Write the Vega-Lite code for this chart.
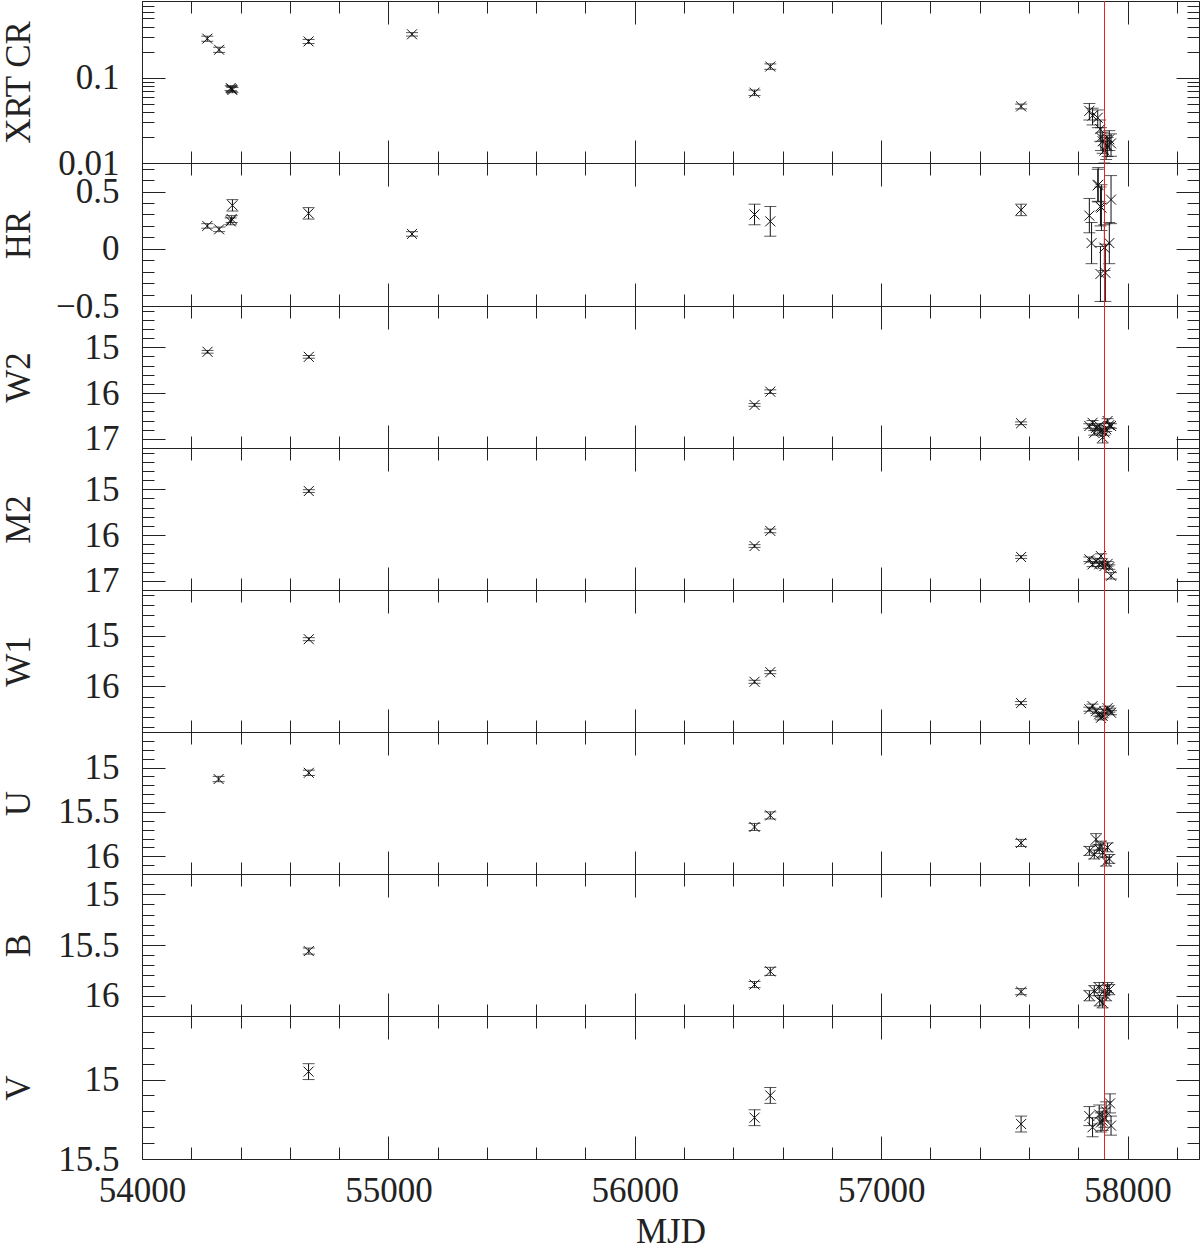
{
  "$schema": "https://vega.github.io/schema/vega-lite/v6.json",
  "background": "white",
  "padding": {"left": 0, "top": 0, "right": 0, "bottom": 0},
  "spacing": 0,
  "bounds": "flush",
  "config": {
    "view": {"stroke": "#222", "strokeWidth": 1},
    "axis": {"domain": false, "grid": false, "tickColor": "#222", "tickWidth": 1, "labelFont": "Liberation Serif", "labelFontSize": 35, "labelColor": "#222", "titleFont": "Liberation Serif", "titleFontSize": 35, "titleFontWeight": "normal", "titleColor": "#222", "labelOverlap": false, "labelFlush": false, "labelBound": false}
  },
  "datasets": {
    "xrt": [
      {"mjd": 54265, "val": 0.289, "err": 0.02},
      {"mjd": 54313, "val": 0.214, "err": 0.015},
      {"mjd": 54360, "val": 0.076, "err": 0.005},
      {"mjd": 54364, "val": 0.074, "err": 0.005},
      {"mjd": 54367, "val": 0.072, "err": 0.005},
      {"mjd": 54676, "val": 0.268, "err": 0.015},
      {"mjd": 55096, "val": 0.325, "err": 0.015},
      {"mjd": 56486, "val": 0.067, "err": 0.005},
      {"mjd": 56550, "val": 0.136, "err": 0.01},
      {"mjd": 57568, "val": 0.0462, "err": 0.003},
      {"mjd": 57845, "val": 0.041, "err": 0.009},
      {"mjd": 57858, "val": 0.036, "err": 0.008},
      {"mjd": 57879, "val": 0.034, "err": 0.008},
      {"mjd": 57889, "val": 0.025, "err": 0.007},
      {"mjd": 57892, "val": 0.020, "err": 0.006},
      {"mjd": 57899, "val": 0.018, "err": 0.005},
      {"mjd": 57906, "val": 0.014, "err": 0.004},
      {"mjd": 57913, "val": 0.016, "err": 0.005},
      {"mjd": 57926, "val": 0.019, "err": 0.005},
      {"mjd": 57919, "val": 0.0159, "err": 0.004},
      {"mjd": 57933, "val": 0.017, "err": 0.005}
    ],
    "hr": [
      {"mjd": 54265, "val": 0.20, "err": 0.02},
      {"mjd": 54313, "val": 0.17, "err": 0.02},
      {"mjd": 54360, "val": 0.24, "err": 0.03},
      {"mjd": 54364, "val": 0.26, "err": 0.03},
      {"mjd": 54367, "val": 0.38, "err": 0.05},
      {"mjd": 54676, "val": 0.31, "err": 0.05},
      {"mjd": 55096, "val": 0.13, "err": 0.02},
      {"mjd": 56486, "val": 0.30, "err": 0.09},
      {"mjd": 56550, "val": 0.24, "err": 0.13},
      {"mjd": 57568, "val": 0.34, "err": 0.05},
      {"mjd": 57845, "val": 0.29, "err": 0.15},
      {"mjd": 57854, "val": 0.05, "err": 0.18},
      {"mjd": 57879, "val": 0.555, "err": 0.14},
      {"mjd": 57881, "val": 0.56, "err": 0.15},
      {"mjd": 57890, "val": 0.37, "err": 0.17},
      {"mjd": 57890, "val": -0.22, "err": 0.24},
      {"mjd": 57894, "val": 0.36, "err": 0.2},
      {"mjd": 57906, "val": 0.01, "err": 0.2},
      {"mjd": 57910, "val": -0.21, "err": 0.25},
      {"mjd": 57926, "val": 0.05, "err": 0.18},
      {"mjd": 57933, "val": 0.43, "err": 0.21}
    ],
    "w2": [
      {"mjd": 54266, "val": 15.10, "err": 0.03},
      {"mjd": 54677, "val": 15.21, "err": 0.03},
      {"mjd": 56486, "val": 16.26, "err": 0.03},
      {"mjd": 56550, "val": 15.97, "err": 0.04},
      {"mjd": 57568, "val": 16.66, "err": 0.03},
      {"mjd": 57845, "val": 16.72, "err": 0.05},
      {"mjd": 57858, "val": 16.65, "err": 0.05},
      {"mjd": 57865, "val": 16.87, "err": 0.05},
      {"mjd": 57872, "val": 16.76, "err": 0.05},
      {"mjd": 57885, "val": 16.72, "err": 0.05},
      {"mjd": 57892, "val": 16.83, "err": 0.05},
      {"mjd": 57899, "val": 16.97, "err": 0.12},
      {"mjd": 57906, "val": 16.86, "err": 0.06},
      {"mjd": 57913, "val": 16.79, "err": 0.05},
      {"mjd": 57919, "val": 16.61, "err": 0.05},
      {"mjd": 57926, "val": 16.70, "err": 0.05},
      {"mjd": 57933, "val": 16.72, "err": 0.05}
    ],
    "m2": [
      {"mjd": 54677, "val": 15.04, "err": 0.03},
      {"mjd": 56486, "val": 16.24, "err": 0.03},
      {"mjd": 56550, "val": 15.91, "err": 0.04},
      {"mjd": 57568, "val": 16.48, "err": 0.03},
      {"mjd": 57845, "val": 16.53, "err": 0.05},
      {"mjd": 57858, "val": 16.64, "err": 0.05},
      {"mjd": 57872, "val": 16.57, "err": 0.05},
      {"mjd": 57885, "val": 16.64, "err": 0.05},
      {"mjd": 57892, "val": 16.46, "err": 0.05},
      {"mjd": 57899, "val": 16.62, "err": 0.05},
      {"mjd": 57906, "val": 16.68, "err": 0.05},
      {"mjd": 57919, "val": 16.63, "err": 0.05},
      {"mjd": 57926, "val": 16.70, "err": 0.05},
      {"mjd": 57933, "val": 16.89, "err": 0.07}
    ],
    "w1": [
      {"mjd": 54677, "val": 15.07, "err": 0.03},
      {"mjd": 56486, "val": 15.91, "err": 0.03},
      {"mjd": 56550, "val": 15.72, "err": 0.03},
      {"mjd": 57568, "val": 16.33, "err": 0.03},
      {"mjd": 57845, "val": 16.45, "err": 0.04},
      {"mjd": 57858, "val": 16.39, "err": 0.04},
      {"mjd": 57872, "val": 16.49, "err": 0.04},
      {"mjd": 57885, "val": 16.55, "err": 0.04},
      {"mjd": 57892, "val": 16.62, "err": 0.04},
      {"mjd": 57899, "val": 16.58, "err": 0.04},
      {"mjd": 57906, "val": 16.49, "err": 0.04},
      {"mjd": 57919, "val": 16.43, "err": 0.04},
      {"mjd": 57926, "val": 16.47, "err": 0.04},
      {"mjd": 57933, "val": 16.52, "err": 0.04}
    ],
    "u": [
      {"mjd": 54311, "val": 15.13, "err": 0.03},
      {"mjd": 54677, "val": 15.06, "err": 0.03},
      {"mjd": 56486, "val": 15.67, "err": 0.04},
      {"mjd": 56550, "val": 15.54, "err": 0.04},
      {"mjd": 57568, "val": 15.85, "err": 0.04},
      {"mjd": 57845, "val": 15.94, "err": 0.05},
      {"mjd": 57865, "val": 15.98, "err": 0.05},
      {"mjd": 57872, "val": 15.81, "err": 0.065},
      {"mjd": 57885, "val": 15.92, "err": 0.05},
      {"mjd": 57892, "val": 15.88, "err": 0.05},
      {"mjd": 57899, "val": 15.96, "err": 0.05},
      {"mjd": 57913, "val": 16.06, "err": 0.05},
      {"mjd": 57919, "val": 15.90, "err": 0.05},
      {"mjd": 57926, "val": 16.03, "err": 0.05}
    ],
    "b": [
      {"mjd": 54677, "val": 15.56, "err": 0.03},
      {"mjd": 56486, "val": 15.89, "err": 0.03},
      {"mjd": 56550, "val": 15.76, "err": 0.04},
      {"mjd": 57568, "val": 15.96, "err": 0.03},
      {"mjd": 57845, "val": 16.00, "err": 0.05},
      {"mjd": 57865, "val": 15.95, "err": 0.05},
      {"mjd": 57885, "val": 15.92, "err": 0.05},
      {"mjd": 57887, "val": 16.05, "err": 0.05},
      {"mjd": 57899, "val": 16.07, "err": 0.05},
      {"mjd": 57906, "val": 15.95, "err": 0.05},
      {"mjd": 57913, "val": 16.00, "err": 0.05},
      {"mjd": 57919, "val": 15.92, "err": 0.05},
      {"mjd": 57926, "val": 15.94, "err": 0.05}
    ],
    "v": [
      {"mjd": 54676, "val": 14.95, "err": 0.05},
      {"mjd": 56486, "val": 15.24, "err": 0.05},
      {"mjd": 56550, "val": 15.10, "err": 0.05},
      {"mjd": 57568, "val": 15.28, "err": 0.05},
      {"mjd": 57845, "val": 15.23, "err": 0.06},
      {"mjd": 57858, "val": 15.30, "err": 0.06},
      {"mjd": 57885, "val": 15.22, "err": 0.06},
      {"mjd": 57892, "val": 15.27, "err": 0.06},
      {"mjd": 57899, "val": 15.26, "err": 0.06},
      {"mjd": 57906, "val": 15.24, "err": 0.06},
      {"mjd": 57913, "val": 15.20, "err": 0.06},
      {"mjd": 57929, "val": 15.15, "err": 0.06},
      {"mjd": 57933, "val": 15.29, "err": 0.06}
    ]
  },
  "vconcat": [
    {
      "width": 1057, "height": 162,
      "data": {"name": "xrt"},
      "resolve": {"axis": {"x": "independent", "y": "independent"}},
      "layer": [
        {"mark": {"type": "errorbar", "color": "#111", "ticks": {"size": 12}, "clip": true},
         "encoding": {"x": {"field": "mjd", "type": "quantitative", "scale": {"domain": [54000, 58290], "nice": false, "zero": false}, "axis": null},
                      "y": {"field": "val", "type": "quantitative", "scale": {"type": "log", "domain": [0.01, 0.8], "nice": false}, "axis": null},
                      "yError": {"field": "err"}}},
        {"mark": {"type": "point", "shape": "M-1,-1L1,1M-1,1L1,-1", "size": 100, "filled": false, "stroke": "#111", "strokeWidth": 1, "opacity": 1, "clip": true},
         "encoding": {"x": {"field": "mjd", "type": "quantitative", "scale": {"domain": [54000, 58290], "nice": false, "zero": false},
                            "axis": {"orient": "bottom", "values": [54000,54200,54400,54600,54800,55000,55200,55400,55600,55800,56000,56200,56400,56600,56800,57000,57200,57400,57600,57800,58000,58200], "tickSize": {"condition": {"test": "datum.value % 1000 === 0", "value": -23}, "value": -12}, "labels": false, "title": null, "minExtent": 0, "maxExtent": 0}},
                      "y": {"field": "val", "type": "quantitative", "scale": {"type": "log", "domain": [0.01, 0.8], "nice": false},
                            "axis": {"orient": "left", "values": [0.01,0.02,0.03,0.04,0.05,0.06,0.07,0.08,0.09,0.1,0.2,0.3,0.4,0.5,0.6,0.7,0.8], "format": "~g", "tickSize": {"condition": {"test": "datum.value == 0.1 || datum.value == 0.01", "value": -23}, "value": -12}, "labelExpr": "(datum.value == 0.1 || datum.value == 0.01) ? datum.label : ''", "labelFontSize": {"condition": {"test": "datum.value == 0.1 || datum.value == 0.01", "value": 35}, "value": 0}, "labelPadding": 46, "title": "XRT CR", "titlePadding": 18, "minExtent": 88, "maxExtent": 88}}}},
        {"mark": {"type": "point", "opacity": 0},
         "encoding": {"x": {"field": "mjd", "type": "quantitative", "scale": {"domain": [54000, 58290], "nice": false, "zero": false},
                            "axis": {"orient": "top", "values": [54000,54200,54400,54600,54800,55000,55200,55400,55600,55800,56000,56200,56400,56600,56800,57000,57200,57400,57600,57800,58000,58200], "tickSize": {"condition": {"test": "datum.value % 1000 === 0", "value": -23}, "value": -12}, "labels": false, "title": null, "minExtent": 0, "maxExtent": 0}},
                      "y": {"field": "val", "type": "quantitative", "scale": {"type": "log", "domain": [0.01, 0.8], "nice": false},
                            "axis": {"orient": "right", "values": [0.01,0.02,0.03,0.04,0.05,0.06,0.07,0.08,0.09,0.1,0.2,0.3,0.4,0.5,0.6,0.7,0.8], "tickSize": {"condition": {"test": "datum.value == 0.1 || datum.value == 0.01", "value": -23}, "value": -12}, "labels": false, "title": null, "minExtent": 0, "maxExtent": 0}}}},
        {"mark": {"type": "rule", "color": "#e8212a", "strokeWidth": 1},
         "encoding": {"x": {"datum": 57906.5, "type": "quantitative", "axis": null}}}
      ]
    },
    {
      "width": 1057, "height": 143,
      "data": {"name": "hr"},
      "resolve": {"axis": {"x": "independent", "y": "independent"}},
      "layer": [
        {"mark": {"type": "errorbar", "color": "#111", "ticks": {"size": 12}, "clip": true},
         "encoding": {"x": {"field": "mjd", "type": "quantitative", "scale": {"domain": [54000, 58290], "nice": false, "zero": false}, "axis": null},
                      "y": {"field": "val", "type": "quantitative", "scale": {"domain": [-0.5, 0.75], "nice": false, "zero": false}, "axis": null},
                      "yError": {"field": "err"}}},
        {"mark": {"type": "point", "shape": "M-1,-1L1,1M-1,1L1,-1", "size": 100, "filled": false, "stroke": "#111", "strokeWidth": 1, "opacity": 1, "clip": true},
         "encoding": {"x": {"field": "mjd", "type": "quantitative", "scale": {"domain": [54000, 58290], "nice": false, "zero": false},
                            "axis": {"orient": "bottom", "values": [54000,54200,54400,54600,54800,55000,55200,55400,55600,55800,56000,56200,56400,56600,56800,57000,57200,57400,57600,57800,58000,58200], "tickSize": {"condition": {"test": "datum.value % 1000 === 0", "value": -23}, "value": -12}, "labels": false, "title": null, "minExtent": 0, "maxExtent": 0}},
                      "y": {"field": "val", "type": "quantitative", "scale": {"domain": [-0.5, 0.75], "nice": false, "zero": false},
                            "axis": {"orient": "left", "values": [-0.5,-0.4,-0.3,-0.2,-0.1,0,0.1,0.2,0.3,0.4,0.5,0.6,0.7], "format": "~g", "tickSize": {"condition": {"test": "abs(datum.value*2 - round(datum.value*2)) < 1e-6", "value": -23}, "value": -12}, "labelExpr": "abs(datum.value*2 - round(datum.value*2)) < 1e-6 ? datum.label : ''", "labelPadding": 46, "title": "HR", "titlePadding": 18, "minExtent": 88, "maxExtent": 88}}}},
        {"mark": {"type": "point", "opacity": 0},
         "encoding": {"x": {"field": "mjd", "type": "quantitative", "scale": {"domain": [54000, 58290], "nice": false, "zero": false},
                            "axis": {"orient": "top", "values": [54000,54200,54400,54600,54800,55000,55200,55400,55600,55800,56000,56200,56400,56600,56800,57000,57200,57400,57600,57800,58000,58200], "tickSize": {"condition": {"test": "datum.value % 1000 === 0", "value": -23}, "value": -12}, "labels": false, "title": null, "minExtent": 0, "maxExtent": 0}},
                      "y": {"field": "val", "type": "quantitative", "scale": {"domain": [-0.5, 0.75], "nice": false, "zero": false},
                            "axis": {"orient": "right", "values": [-0.5,-0.4,-0.3,-0.2,-0.1,0,0.1,0.2,0.3,0.4,0.5,0.6,0.7], "tickSize": {"condition": {"test": "abs(datum.value*2 - round(datum.value*2)) < 1e-6", "value": -23}, "value": -12}, "labels": false, "title": null, "minExtent": 0, "maxExtent": 0}}}},
        {"mark": {"type": "rule", "color": "#e8212a", "strokeWidth": 1},
         "encoding": {"x": {"datum": 57906.5, "type": "quantitative", "axis": null}}}
      ]
    },
    {
      "width": 1057, "height": 142,
      "data": {"name": "w2"},
      "resolve": {"axis": {"x": "independent", "y": "independent"}},
      "layer": [
        {"mark": {"type": "errorbar", "color": "#111", "ticks": {"size": 12}, "clip": true},
         "encoding": {"x": {"field": "mjd", "type": "quantitative", "scale": {"domain": [54000, 58290], "nice": false, "zero": false}, "axis": null},
                      "y": {"field": "val", "type": "quantitative", "scale": {"domain": [14.1, 17.2], "reverse": true, "nice": false, "zero": false}, "axis": null},
                      "yError": {"field": "err"}}},
        {"mark": {"type": "point", "shape": "M-1,-1L1,1M-1,1L1,-1", "size": 100, "filled": false, "stroke": "#111", "strokeWidth": 1, "opacity": 1, "clip": true},
         "encoding": {"x": {"field": "mjd", "type": "quantitative", "scale": {"domain": [54000, 58290], "nice": false, "zero": false},
                            "axis": {"orient": "bottom", "values": [54000,54200,54400,54600,54800,55000,55200,55400,55600,55800,56000,56200,56400,56600,56800,57000,57200,57400,57600,57800,58000,58200], "tickSize": {"condition": {"test": "datum.value % 1000 === 0", "value": -23}, "value": -12}, "labels": false, "title": null, "minExtent": 0, "maxExtent": 0}},
                      "y": {"field": "val", "type": "quantitative", "scale": {"domain": [14.1, 17.2], "reverse": true, "nice": false, "zero": false},
                            "axis": {"orient": "left", "values": [14.2,14.4,14.6,14.8,15,15.2,15.4,15.6,15.8,16,16.2,16.4,16.6,16.8,17,17.2], "format": "~g", "tickSize": {"condition": {"test": "abs(datum.value - round(datum.value)) < 1e-6", "value": -23}, "value": -12}, "labelExpr": "abs(datum.value - round(datum.value)) < 1e-6 ? datum.label : ''", "labelPadding": 46, "title": "W2", "titlePadding": 18, "minExtent": 88, "maxExtent": 88}}}},
        {"mark": {"type": "point", "opacity": 0},
         "encoding": {"x": {"field": "mjd", "type": "quantitative", "scale": {"domain": [54000, 58290], "nice": false, "zero": false},
                            "axis": {"orient": "top", "values": [54000,54200,54400,54600,54800,55000,55200,55400,55600,55800,56000,56200,56400,56600,56800,57000,57200,57400,57600,57800,58000,58200], "tickSize": {"condition": {"test": "datum.value % 1000 === 0", "value": -23}, "value": -12}, "labels": false, "title": null, "minExtent": 0, "maxExtent": 0}},
                      "y": {"field": "val", "type": "quantitative", "scale": {"domain": [14.1, 17.2], "reverse": true, "nice": false, "zero": false},
                            "axis": {"orient": "right", "values": [14.2,14.4,14.6,14.8,15,15.2,15.4,15.6,15.8,16,16.2,16.4,16.6,16.8,17,17.2], "tickSize": {"condition": {"test": "abs(datum.value - round(datum.value)) < 1e-6", "value": -23}, "value": -12}, "labels": false, "title": null, "minExtent": 0, "maxExtent": 0}}}},
        {"mark": {"type": "rule", "color": "#e8212a", "strokeWidth": 1},
         "encoding": {"x": {"datum": 57906.5, "type": "quantitative", "axis": null}}}
      ]
    },
    {
      "width": 1057, "height": 142,
      "data": {"name": "m2"},
      "resolve": {"axis": {"x": "independent", "y": "independent"}},
      "layer": [
        {"mark": {"type": "errorbar", "color": "#111", "ticks": {"size": 12}, "clip": true},
         "encoding": {"x": {"field": "mjd", "type": "quantitative", "scale": {"domain": [54000, 58290], "nice": false, "zero": false}, "axis": null},
                      "y": {"field": "val", "type": "quantitative", "scale": {"domain": [14.1, 17.2], "reverse": true, "nice": false, "zero": false}, "axis": null},
                      "yError": {"field": "err"}}},
        {"mark": {"type": "point", "shape": "M-1,-1L1,1M-1,1L1,-1", "size": 100, "filled": false, "stroke": "#111", "strokeWidth": 1, "opacity": 1, "clip": true},
         "encoding": {"x": {"field": "mjd", "type": "quantitative", "scale": {"domain": [54000, 58290], "nice": false, "zero": false},
                            "axis": {"orient": "bottom", "values": [54000,54200,54400,54600,54800,55000,55200,55400,55600,55800,56000,56200,56400,56600,56800,57000,57200,57400,57600,57800,58000,58200], "tickSize": {"condition": {"test": "datum.value % 1000 === 0", "value": -23}, "value": -12}, "labels": false, "title": null, "minExtent": 0, "maxExtent": 0}},
                      "y": {"field": "val", "type": "quantitative", "scale": {"domain": [14.1, 17.2], "reverse": true, "nice": false, "zero": false},
                            "axis": {"orient": "left", "values": [14.2,14.4,14.6,14.8,15,15.2,15.4,15.6,15.8,16,16.2,16.4,16.6,16.8,17,17.2], "format": "~g", "tickSize": {"condition": {"test": "abs(datum.value - round(datum.value)) < 1e-6", "value": -23}, "value": -12}, "labelExpr": "abs(datum.value - round(datum.value)) < 1e-6 ? datum.label : ''", "labelPadding": 46, "title": "M2", "titlePadding": 18, "minExtent": 88, "maxExtent": 88}}}},
        {"mark": {"type": "point", "opacity": 0},
         "encoding": {"x": {"field": "mjd", "type": "quantitative", "scale": {"domain": [54000, 58290], "nice": false, "zero": false},
                            "axis": {"orient": "top", "values": [54000,54200,54400,54600,54800,55000,55200,55400,55600,55800,56000,56200,56400,56600,56800,57000,57200,57400,57600,57800,58000,58200], "tickSize": {"condition": {"test": "datum.value % 1000 === 0", "value": -23}, "value": -12}, "labels": false, "title": null, "minExtent": 0, "maxExtent": 0}},
                      "y": {"field": "val", "type": "quantitative", "scale": {"domain": [14.1, 17.2], "reverse": true, "nice": false, "zero": false},
                            "axis": {"orient": "right", "values": [14.2,14.4,14.6,14.8,15,15.2,15.4,15.6,15.8,16,16.2,16.4,16.6,16.8,17,17.2], "tickSize": {"condition": {"test": "abs(datum.value - round(datum.value)) < 1e-6", "value": -23}, "value": -12}, "labels": false, "title": null, "minExtent": 0, "maxExtent": 0}}}},
        {"mark": {"type": "rule", "color": "#e8212a", "strokeWidth": 1},
         "encoding": {"x": {"datum": 57906.5, "type": "quantitative", "axis": null}}}
      ]
    },
    {
      "width": 1057, "height": 142,
      "data": {"name": "w1"},
      "resolve": {"axis": {"x": "independent", "y": "independent"}},
      "layer": [
        {"mark": {"type": "errorbar", "color": "#111", "ticks": {"size": 12}, "clip": true},
         "encoding": {"x": {"field": "mjd", "type": "quantitative", "scale": {"domain": [54000, 58290], "nice": false, "zero": false}, "axis": null},
                      "y": {"field": "val", "type": "quantitative", "scale": {"domain": [14.1, 16.9], "reverse": true, "nice": false, "zero": false}, "axis": null},
                      "yError": {"field": "err"}}},
        {"mark": {"type": "point", "shape": "M-1,-1L1,1M-1,1L1,-1", "size": 100, "filled": false, "stroke": "#111", "strokeWidth": 1, "opacity": 1, "clip": true},
         "encoding": {"x": {"field": "mjd", "type": "quantitative", "scale": {"domain": [54000, 58290], "nice": false, "zero": false},
                            "axis": {"orient": "bottom", "values": [54000,54200,54400,54600,54800,55000,55200,55400,55600,55800,56000,56200,56400,56600,56800,57000,57200,57400,57600,57800,58000,58200], "tickSize": {"condition": {"test": "datum.value % 1000 === 0", "value": -23}, "value": -12}, "labels": false, "title": null, "minExtent": 0, "maxExtent": 0}},
                      "y": {"field": "val", "type": "quantitative", "scale": {"domain": [14.1, 16.9], "reverse": true, "nice": false, "zero": false},
                            "axis": {"orient": "left", "values": [14.2,14.4,14.6,14.8,15,15.2,15.4,15.6,15.8,16,16.2,16.4,16.6,16.8], "format": "~g", "tickSize": {"condition": {"test": "abs(datum.value - round(datum.value)) < 1e-6", "value": -23}, "value": -12}, "labelExpr": "abs(datum.value - round(datum.value)) < 1e-6 ? datum.label : ''", "labelPadding": 46, "title": "W1", "titlePadding": 18, "minExtent": 88, "maxExtent": 88}}}},
        {"mark": {"type": "point", "opacity": 0},
         "encoding": {"x": {"field": "mjd", "type": "quantitative", "scale": {"domain": [54000, 58290], "nice": false, "zero": false},
                            "axis": {"orient": "top", "values": [54000,54200,54400,54600,54800,55000,55200,55400,55600,55800,56000,56200,56400,56600,56800,57000,57200,57400,57600,57800,58000,58200], "tickSize": {"condition": {"test": "datum.value % 1000 === 0", "value": -23}, "value": -12}, "labels": false, "title": null, "minExtent": 0, "maxExtent": 0}},
                      "y": {"field": "val", "type": "quantitative", "scale": {"domain": [14.1, 16.9], "reverse": true, "nice": false, "zero": false},
                            "axis": {"orient": "right", "values": [14.2,14.4,14.6,14.8,15,15.2,15.4,15.6,15.8,16,16.2,16.4,16.6,16.8], "tickSize": {"condition": {"test": "abs(datum.value - round(datum.value)) < 1e-6", "value": -23}, "value": -12}, "labels": false, "title": null, "minExtent": 0, "maxExtent": 0}}}},
        {"mark": {"type": "rule", "color": "#e8212a", "strokeWidth": 1},
         "encoding": {"x": {"datum": 57906.5, "type": "quantitative", "axis": null}}}
      ]
    },
    {
      "width": 1057, "height": 142,
      "data": {"name": "u"},
      "resolve": {"axis": {"x": "independent", "y": "independent"}},
      "layer": [
        {"mark": {"type": "errorbar", "color": "#111", "ticks": {"size": 12}, "clip": true},
         "encoding": {"x": {"field": "mjd", "type": "quantitative", "scale": {"domain": [54000, 58290], "nice": false, "zero": false}, "axis": null},
                      "y": {"field": "val", "type": "quantitative", "scale": {"domain": [14.6, 16.2], "reverse": true, "nice": false, "zero": false}, "axis": null},
                      "yError": {"field": "err"}}},
        {"mark": {"type": "point", "shape": "M-1,-1L1,1M-1,1L1,-1", "size": 100, "filled": false, "stroke": "#111", "strokeWidth": 1, "opacity": 1, "clip": true},
         "encoding": {"x": {"field": "mjd", "type": "quantitative", "scale": {"domain": [54000, 58290], "nice": false, "zero": false},
                            "axis": {"orient": "bottom", "values": [54000,54200,54400,54600,54800,55000,55200,55400,55600,55800,56000,56200,56400,56600,56800,57000,57200,57400,57600,57800,58000,58200], "tickSize": {"condition": {"test": "datum.value % 1000 === 0", "value": -23}, "value": -12}, "labels": false, "title": null, "minExtent": 0, "maxExtent": 0}},
                      "y": {"field": "val", "type": "quantitative", "scale": {"domain": [14.6, 16.2], "reverse": true, "nice": false, "zero": false},
                            "axis": {"orient": "left", "values": [14.7,14.8,14.9,15,15.1,15.2,15.3,15.4,15.5,15.6,15.7,15.8,15.9,16,16.1], "format": "~g", "tickSize": {"condition": {"test": "abs(datum.value*2 - round(datum.value*2)) < 1e-6", "value": -23}, "value": -12}, "labelExpr": "abs(datum.value*2 - round(datum.value*2)) < 1e-6 ? datum.label : ''", "labelPadding": 46, "title": "U", "titlePadding": 18, "minExtent": 88, "maxExtent": 88}}}},
        {"mark": {"type": "point", "opacity": 0},
         "encoding": {"x": {"field": "mjd", "type": "quantitative", "scale": {"domain": [54000, 58290], "nice": false, "zero": false},
                            "axis": {"orient": "top", "values": [54000,54200,54400,54600,54800,55000,55200,55400,55600,55800,56000,56200,56400,56600,56800,57000,57200,57400,57600,57800,58000,58200], "tickSize": {"condition": {"test": "datum.value % 1000 === 0", "value": -23}, "value": -12}, "labels": false, "title": null, "minExtent": 0, "maxExtent": 0}},
                      "y": {"field": "val", "type": "quantitative", "scale": {"domain": [14.6, 16.2], "reverse": true, "nice": false, "zero": false},
                            "axis": {"orient": "right", "values": [14.7,14.8,14.9,15,15.1,15.2,15.3,15.4,15.5,15.6,15.7,15.8,15.9,16,16.1], "tickSize": {"condition": {"test": "abs(datum.value*2 - round(datum.value*2)) < 1e-6", "value": -23}, "value": -12}, "labels": false, "title": null, "minExtent": 0, "maxExtent": 0}}}},
        {"mark": {"type": "rule", "color": "#e8212a", "strokeWidth": 1},
         "encoding": {"x": {"datum": 57906.5, "type": "quantitative", "axis": null}}}
      ]
    },
    {
      "width": 1057, "height": 142,
      "data": {"name": "b"},
      "resolve": {"axis": {"x": "independent", "y": "independent"}},
      "layer": [
        {"mark": {"type": "errorbar", "color": "#111", "ticks": {"size": 12}, "clip": true},
         "encoding": {"x": {"field": "mjd", "type": "quantitative", "scale": {"domain": [54000, 58290], "nice": false, "zero": false}, "axis": null},
                      "y": {"field": "val", "type": "quantitative", "scale": {"domain": [14.8, 16.2], "reverse": true, "nice": false, "zero": false}, "axis": null},
                      "yError": {"field": "err"}}},
        {"mark": {"type": "point", "shape": "M-1,-1L1,1M-1,1L1,-1", "size": 100, "filled": false, "stroke": "#111", "strokeWidth": 1, "opacity": 1, "clip": true},
         "encoding": {"x": {"field": "mjd", "type": "quantitative", "scale": {"domain": [54000, 58290], "nice": false, "zero": false},
                            "axis": {"orient": "bottom", "values": [54000,54200,54400,54600,54800,55000,55200,55400,55600,55800,56000,56200,56400,56600,56800,57000,57200,57400,57600,57800,58000,58200], "tickSize": {"condition": {"test": "datum.value % 1000 === 0", "value": -23}, "value": -12}, "labels": false, "title": null, "minExtent": 0, "maxExtent": 0}},
                      "y": {"field": "val", "type": "quantitative", "scale": {"domain": [14.8, 16.2], "reverse": true, "nice": false, "zero": false},
                            "axis": {"orient": "left", "values": [14.9,15,15.1,15.2,15.3,15.4,15.5,15.6,15.7,15.8,15.9,16,16.1], "format": "~g", "tickSize": {"condition": {"test": "abs(datum.value*2 - round(datum.value*2)) < 1e-6", "value": -23}, "value": -12}, "labelExpr": "abs(datum.value*2 - round(datum.value*2)) < 1e-6 ? datum.label : ''", "labelPadding": 46, "title": "B", "titlePadding": 18, "minExtent": 88, "maxExtent": 88}}}},
        {"mark": {"type": "point", "opacity": 0},
         "encoding": {"x": {"field": "mjd", "type": "quantitative", "scale": {"domain": [54000, 58290], "nice": false, "zero": false},
                            "axis": {"orient": "top", "values": [54000,54200,54400,54600,54800,55000,55200,55400,55600,55800,56000,56200,56400,56600,56800,57000,57200,57400,57600,57800,58000,58200], "tickSize": {"condition": {"test": "datum.value % 1000 === 0", "value": -23}, "value": -12}, "labels": false, "title": null, "minExtent": 0, "maxExtent": 0}},
                      "y": {"field": "val", "type": "quantitative", "scale": {"domain": [14.8, 16.2], "reverse": true, "nice": false, "zero": false},
                            "axis": {"orient": "right", "values": [14.9,15,15.1,15.2,15.3,15.4,15.5,15.6,15.7,15.8,15.9,16,16.1], "tickSize": {"condition": {"test": "abs(datum.value*2 - round(datum.value*2)) < 1e-6", "value": -23}, "value": -12}, "labels": false, "title": null, "minExtent": 0, "maxExtent": 0}}}},
        {"mark": {"type": "rule", "color": "#e8212a", "strokeWidth": 1},
         "encoding": {"x": {"datum": 57906.5, "type": "quantitative", "axis": null}}}
      ]
    },
    {
      "width": 1057, "height": 143,
      "data": {"name": "v"},
      "resolve": {"axis": {"x": "independent", "y": "independent"}},
      "layer": [
        {"mark": {"type": "errorbar", "color": "#111", "ticks": {"size": 12}, "clip": true},
         "encoding": {"x": {"field": "mjd", "type": "quantitative", "scale": {"domain": [54000, 58290], "nice": false, "zero": false}, "axis": null},
                      "y": {"field": "val", "type": "quantitative", "scale": {"domain": [14.6, 15.5], "reverse": true, "nice": false, "zero": false}, "axis": null},
                      "yError": {"field": "err"}}},
        {"mark": {"type": "point", "shape": "M-1,-1L1,1M-1,1L1,-1", "size": 100, "filled": false, "stroke": "#111", "strokeWidth": 1, "opacity": 1, "clip": true},
         "encoding": {"x": {"field": "mjd", "type": "quantitative", "scale": {"domain": [54000, 58290], "nice": false, "zero": false},
                            "axis": {"orient": "bottom", "values": [54000,54200,54400,54600,54800,55000,55200,55400,55600,55800,56000,56200,56400,56600,56800,57000,57200,57400,57600,57800,58000,58200], "format": "d", "tickSize": {"condition": {"test": "datum.value % 1000 === 0", "value": -23}, "value": -12}, "labelExpr": "datum.value % 1000 === 0 ? datum.label : ''", "labelPadding": 37, "title": "MJD", "titlePadding": -5}},
                      "y": {"field": "val", "type": "quantitative", "scale": {"domain": [14.6, 15.5], "reverse": true, "nice": false, "zero": false},
                            "axis": {"orient": "left", "values": [14.7,14.8,14.9,15,15.1,15.2,15.3,15.4,15.5], "format": "~g", "tickSize": {"condition": {"test": "abs(datum.value*2 - round(datum.value*2)) < 1e-6", "value": -23}, "value": -12}, "labelExpr": "abs(datum.value*2 - round(datum.value*2)) < 1e-6 ? datum.label : ''", "labelPadding": 46, "title": "V", "titlePadding": 18, "minExtent": 88, "maxExtent": 88}}}},
        {"mark": {"type": "point", "opacity": 0},
         "encoding": {"x": {"field": "mjd", "type": "quantitative", "scale": {"domain": [54000, 58290], "nice": false, "zero": false},
                            "axis": {"orient": "top", "values": [54000,54200,54400,54600,54800,55000,55200,55400,55600,55800,56000,56200,56400,56600,56800,57000,57200,57400,57600,57800,58000,58200], "tickSize": {"condition": {"test": "datum.value % 1000 === 0", "value": -23}, "value": -12}, "labels": false, "title": null, "minExtent": 0, "maxExtent": 0}},
                      "y": {"field": "val", "type": "quantitative", "scale": {"domain": [14.6, 15.5], "reverse": true, "nice": false, "zero": false},
                            "axis": {"orient": "right", "values": [14.7,14.8,14.9,15,15.1,15.2,15.3,15.4,15.5], "tickSize": {"condition": {"test": "abs(datum.value*2 - round(datum.value*2)) < 1e-6", "value": -23}, "value": -12}, "labels": false, "title": null, "minExtent": 0, "maxExtent": 0}}}},
        {"mark": {"type": "rule", "color": "#e8212a", "strokeWidth": 1},
         "encoding": {"x": {"datum": 57906.5, "type": "quantitative", "axis": null}}}
      ]
    }
  ]
}
